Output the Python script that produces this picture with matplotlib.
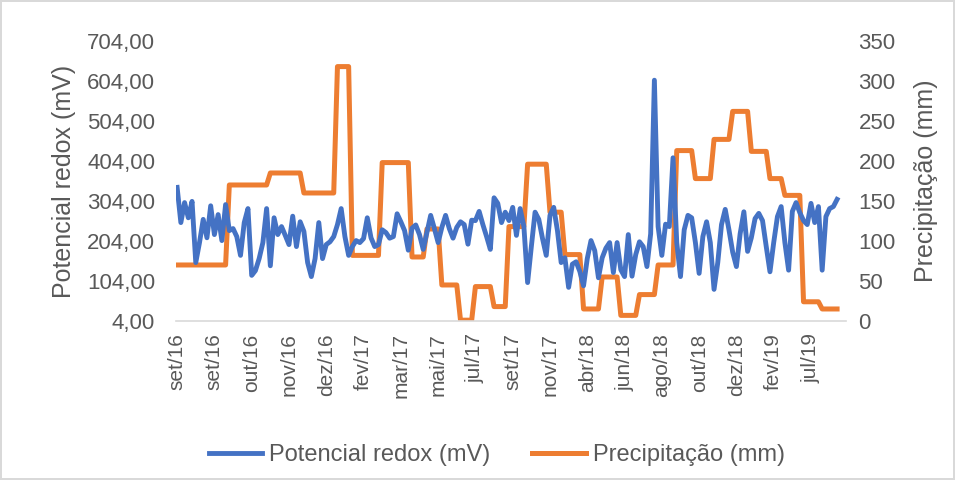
import matplotlib
matplotlib.use("Agg")
import matplotlib.pyplot as plt
from matplotlib.ticker import FuncFormatter

# ---- Data (one value per sample) ----
redox_mv = [
    338, 250, 300, 262, 303, 150, 200, 258, 212, 292,
    220, 270, 205, 295, 230, 235, 215, 168, 250, 285,
    118, 130, 160, 200, 285, 142, 262, 220, 240, 218,
    195, 266, 190, 252, 228, 150, 115, 160, 250, 160,
    195, 202, 215, 245, 285, 215, 168, 190, 205, 200,
    210, 262, 212, 190, 195, 232, 225, 211, 215, 272,
    252, 230, 181, 236, 244, 220, 183, 225, 268, 235,
    200, 238, 268, 235, 211, 238, 252, 245, 196, 256,
    255, 278, 245, 215, 183, 312, 298, 250, 276, 255,
    288, 218, 285, 240, 100, 190, 276, 258, 210, 168,
    268, 288, 230, 150, 162, 88, 146, 152, 128, 92,
    160, 205, 180, 112, 162, 186, 200, 125, 200, 132,
    115, 220, 116, 170, 202, 190, 140, 222, 606, 240,
    168, 246, 240, 412, 200, 115, 232, 268, 262, 200,
    123, 215, 252, 200, 83, 150, 245, 283, 232, 176,
    140, 222, 277, 178, 212, 260, 273, 255, 190, 127,
    200, 265, 290, 200, 131, 278, 300, 275, 255, 245,
    298, 250, 290, 131, 265, 285, 290, 308,
]

precip_mm = [
    70, 70, 70, 70, 70, 70, 70, 70, 70, 70,
    70, 70, 70, 70, 170, 170, 170, 170, 170, 170,
    170, 170, 170, 170, 170, 185, 185, 185, 185, 185,
    185, 185, 185, 185, 160, 160, 160, 160, 160, 160,
    160, 160, 160, 318, 318, 318, 318, 82, 82, 82,
    82, 82, 82, 82, 82, 198, 198, 198, 198, 198,
    198, 198, 198, 80, 80, 80, 80, 115, 115, 115,
    115, 45, 45, 45, 45, 45, 1, 1, 1, 1,
    43, 43, 43, 43, 43, 18, 18, 18, 18, 118,
    118, 118, 118, 118, 196, 196, 196, 196, 196, 196,
    136, 136, 136, 136, 83, 83, 83, 83, 83, 15,
    15, 15, 15, 15, 55, 55, 55, 55, 55, 7,
    7, 7, 7, 7, 33, 33, 33, 33, 33, 70,
    70, 70, 70, 70, 213, 213, 213, 213, 213, 178,
    178, 178, 178, 178, 227, 227, 227, 227, 227, 262,
    262, 262, 262, 262, 212, 212, 212, 212, 212, 178,
    178, 178, 178, 157, 157, 157, 157, 157, 24, 24,
    24, 24, 24, 15, 15, 15, 15, 15,
]

tick_labels = ["set/16", "set/16", "out/16", "nov/16", "dez/16", "fev/17",
               "mar/17", "mai/17", "jul/17", "set/17", "nov/17", "abr/18",
               "jun/18", "ago/18", "out/18", "dez/18", "fev/19", "jul/19"]
tick_every = 10

# ---- Style ----
plt.rcParams["font.family"] = ["Liberation Sans", "DejaVu Sans"]
GRAY = "#595959"
BLUE = "#4472C4"
ORANGE = "#ED7D31"

fig = plt.figure(figsize=(9.55, 4.8), dpi=100)
fig.patch.set_edgecolor("#D9D9D9")
fig.patch.set_linewidth(1.5)
ax = fig.add_axes([0.1843, 0.3313, 0.7016, 0.5833])
ax2 = ax.twinx()

x = list(range(len(redox_mv)))
l1, = ax.plot(x, redox_mv, color=BLUE, linewidth=3.5, solid_joinstyle="round",
              label="Potencial redox (mV)", zorder=3)
l2, = ax2.plot(x, precip_mm, color=ORANGE, linewidth=3.6, solid_joinstyle="round",
               label="Precipitação (mm)")
ax.set_zorder(ax2.get_zorder() + 1)
ax.patch.set_visible(False)

ax.set_xlim(-0.3, 179.4)
ax.set_ylim(4, 704)
ax.set_yticks(range(4, 705, 100))
ax.yaxis.set_major_formatter(FuncFormatter(lambda v, p: f"{v:.2f}".replace(".", ",")))
ax2.set_ylim(0, 350)
ax2.set_yticks(range(0, 351, 50))

ticks = [i * tick_every for i in range(len(tick_labels))]
ax.set_xticks(ticks)
ax.set_xticklabels(tick_labels, rotation=90)

for a in (ax, ax2):
    for s in a.spines.values():
        s.set_visible(False)
    a.tick_params(length=0, labelsize=16, colors=GRAY)
ax.spines["bottom"].set_visible(True)
ax.spines["bottom"].set_color("#D9D9D9")
ax.spines["bottom"].set_linewidth(1.2)
ax.tick_params(axis="x", pad=9, labelsize=15)
ax.tick_params(axis="y", pad=15)
ax2.tick_params(axis="y", pad=9)

ax.set_ylabel("Potencial redox (mV)", fontsize=18, color=GRAY, labelpad=8)
ax2.set_ylabel("Precipitação (mm)", fontsize=18, color=GRAY, labelpad=13)

fig.legend(handles=[l1, l2], loc="lower center", bbox_to_anchor=(0.52, -0.015),
           ncol=2, frameon=False, fontsize=17, labelcolor=GRAY,
           handlelength=2.25, columnspacing=1.8, handletextpad=0.3)

fig.savefig("out.png", dpi=100)
